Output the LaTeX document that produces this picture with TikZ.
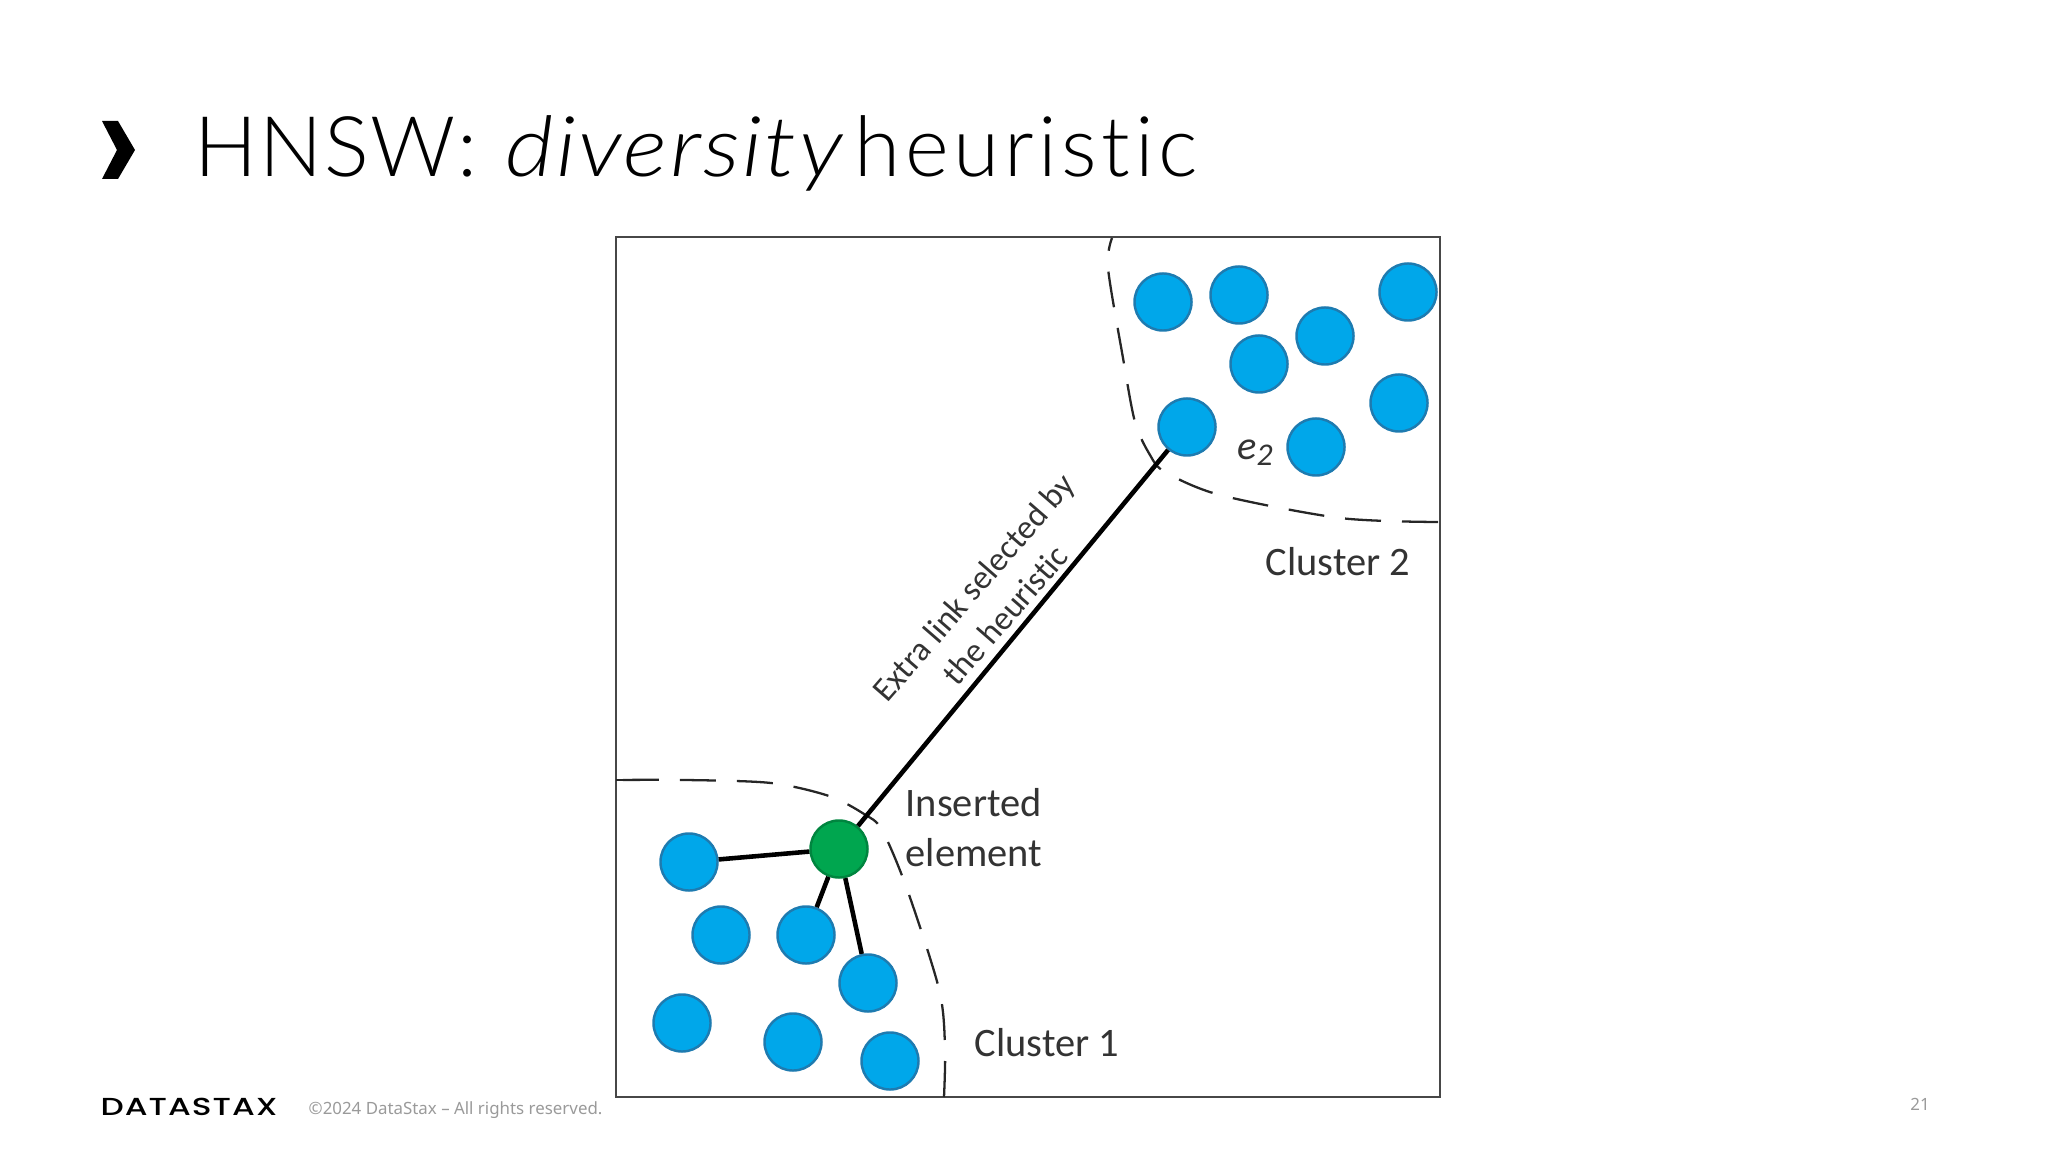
\documentclass[tikz,border=0pt]{standalone}
\usepackage{fontspec}
\setmainfont{Carlito}[Ligatures=NoCommon]
\newfontfamily\titlefont{Lato}[UprightFont=*-Light,ItalicFont=*-LightItalic,Ligatures=NoCommon,LetterSpace=5.5]
\newfontfamily\footfont{Noto Sans}
\newfontfamily\logofont{Poppins}[UprightFont=*-Medium,FakeStretch=1.33,LetterSpace=4]
\usepackage{tikz}
\usetikzlibrary{positioning}
\definecolor{dotblue}{HTML}{00A7EA}
\definecolor{dotline}{HTML}{1E7BB0}
\definecolor{dotgreen}{HTML}{00A64F}
\definecolor{frameline}{HTML}{474747}
\definecolor{labelgray}{HTML}{333333}
\definecolor{footgray}{HTML}{9A9A9A}
\tikzset{
    MyPixels/.style={x=0.01cm,y=-0.01cm},
    BlueDot/.style={circle,draw=dotline,fill=dotblue,line width=0.7pt,minimum size=0.57cm,inner sep=0pt},
    GreenDot/.style={BlueDot,draw=dotgreen!80!black,fill=dotgreen},
    ClusterEdge/.style={line width=0.65pt,black!85,dash pattern=on 0.36cm off 0.21cm},
    LinkEdge/.style={line width=1.3pt,black},
    DiagramLabel/.style={text=labelgray,font=\fontsize{11.5pt}{14.1pt}\selectfont,inner sep=0pt}
}

\begin{document}
\begin{tikzpicture}[MyPixels]
            \useasboundingbox (0,0) rectangle (2048,1152);

            \fill (102,121) -- (118,121) -- (135,150) -- (118,179) -- (102,179) -- (117,150) -- cycle;
            \node[anchor=base west,inner sep=0pt] (title) at (194,177) {\titlefont\fontsize{23.8pt}{29pt}\selectfont {\addfontfeature{LetterSpace=2}HNSW:}\hspace*{8pt}\textit{\addfontfeature{FakeStretch=1.12,LetterSpace=3}diversity}\hspace*{2.5pt}heuristic};

            \node[anchor=mid west,inner sep=0pt] (logo) at (100,1107) {\logofont\fontsize{7pt}{8pt}\selectfont DATASTAX};
            \node[anchor=mid west,inner sep=0pt,text=footgray] (copy) at (308,1106) {\footfont\fontsize{4.8pt}{6pt}\selectfont ©2024 DataStax – All rights reserved.};
            \node[inner sep=0pt,text=footgray] (pagenum) at (1920,1104) {\footfont\fontsize{4.8pt}{6pt}\selectfont 21};

            \draw[frameline,line width=0.8pt] (616,237) rectangle (1440,1097);

            \begin{scope}
                \draw[ClusterEdge] plot[smooth] coordinates {(1438,522) (1340,518) (1220,495) (1165,472) (1150,455) (1135,422) (1123,358) (1108,268) (1112,238)};
                \draw[ClusterEdge] plot[smooth] coordinates {(944,1097) (945,1046) (939,989) (907,889) (882,830) (864,814) (829,796) (771,783) (686,780) (616,780)};
                \draw[ClusterEdge,solid] (616,780) -- (624,780);
            \end{scope}

            \begin{scope}
                \node[GreenDot] (inserted) at (839,849) {};
                \node[BlueDot] (a) at (689,862) {};
                \node[BlueDot] (b) at (721,935) {};
                \node[BlueDot] (c) at (806,935) {};
                \node[BlueDot] (d) at (868,983) {};
                \node[BlueDot] (f) at (682,1023) {};
                \node[BlueDot] (g) at (793,1042) {};
                \node[BlueDot] (h) at (890,1061) {};

                \node[BlueDot] (i) at (1163,302) {};
                \node[BlueDot] (j) at (1239,295) {};
                \node[BlueDot] (k) at (1408,292) {};
                \node[BlueDot] (l) at (1325,336) {};
                \node[BlueDot] (m) at (1259,364) {};
                \node[BlueDot] (n) at (1399,403) {};
                \node[BlueDot] (e2) at (1187,427) {};
                \node[BlueDot] (o) at (1316,447) {};
            \end{scope}

            \draw[LinkEdge] (inserted) -- (a);
            \draw[LinkEdge] (inserted) -- (c);
            \draw[LinkEdge] (inserted) -- (d);
            \draw[LinkEdge] (inserted) -- (e2);

            \node[DiagramLabel,anchor=north west,align=left] (insertedlabel) at (905,788) {Inserted\\element};
            \node[DiagramLabel] (cluster1) at (1047,1043) {Cluster 1};
            \node[DiagramLabel] (cluster2) at (1338,562) {Cluster 2};
            \node[DiagramLabel] (e2label) at (1255,453) {\textit{e}\raisebox{-0.3ex}{\small\textit{2}}};
            \node[DiagramLabel,rotate=49,align=center,font=\fontsize{9.6pt}{12pt}\selectfont] (linklabel) at (989,601) {Extra link selected by\\the heuristic};
        \end{tikzpicture}
\end{document}
